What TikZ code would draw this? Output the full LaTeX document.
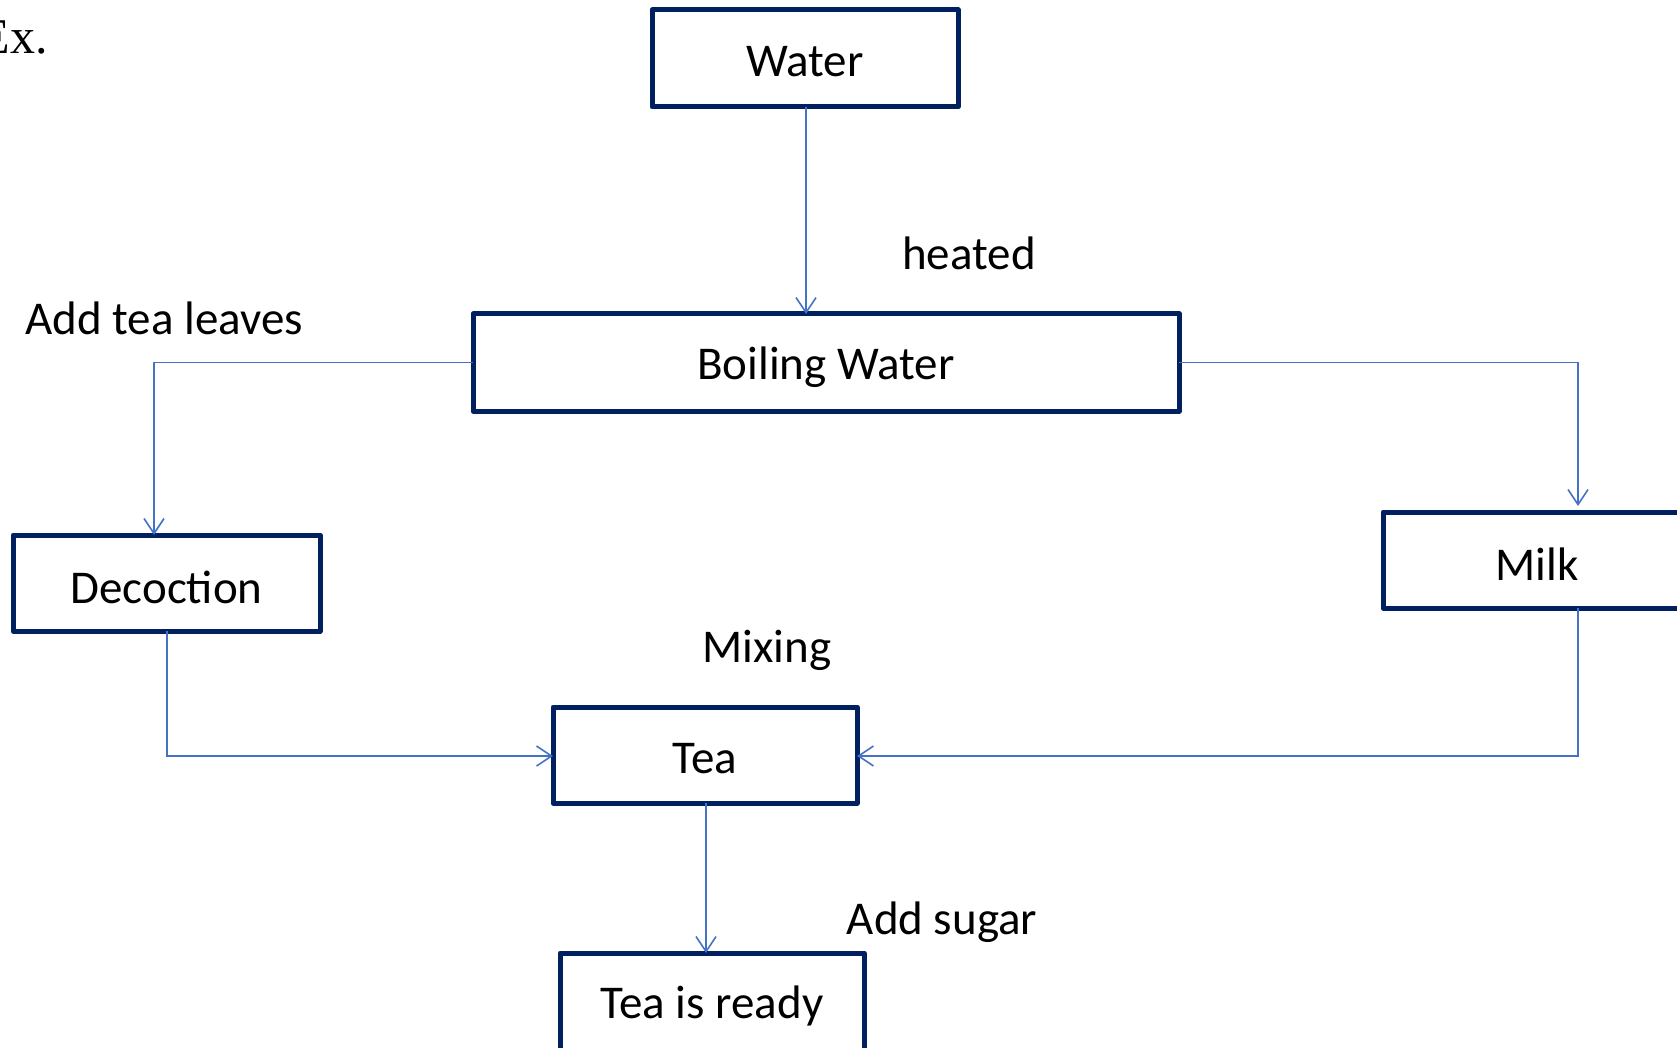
\documentclass[tikz,border=0pt]{standalone}
\usepackage{fontspec}
\setmainfont{Carlito}
\newfontfamily\exfont{Liberation Serif}
\usetikzlibrary{arrows.meta}
\definecolor{boxnavy}{HTML}{002060}
\definecolor{linkblue}{HTML}{4472C4}
\begin{document}
\begin{tikzpicture}[x=1pt,y=-1pt,
  procbox/.style={draw=boxnavy,line width=5pt,line join=round,fill=white},
  lbl/.style={font=\fontsize{47}{56}\selectfont,inner sep=0pt},
  link/.style={draw=linkblue,line width=1.6pt,-{Straight Barb[length=15pt,width=20pt,line width=1.6pt]}}]
\useasboundingbox (0,0) rectangle (1677,1048);
\clip (0,0) rectangle (1677,1048);

% process boxes
\draw[procbox] (652,10) rectangle (958,107);
\node[lbl] (water) at (805,62) {Water};
\draw[procbox] (473,314) rectangle (1179,411);
\node[lbl] (boil) at (826,367) {Boiling Water};
\draw[procbox] (13,535) rectangle (320,631);
\node[lbl] (decoc) at (166.5,587) {Decoction};
\draw[procbox] (1383,512) rectangle (1720,608);
\node[lbl] (milk) at (1537,564) {Milk};
\draw[procbox] (553,707) rectangle (857,803);
\node[lbl] (tea) at (705,759) {Tea};
\draw[procbox] (560,953) rectangle (864,1100);
\node[lbl] (ready) at (712,1006) {Tea is ready};

% anchor points on the box edges
\coordinate (waterS) at (806,107);
\coordinate (boilN) at (806,314);
\coordinate (boilW) at (473,362.5);
\coordinate (boilE) at (1179,362.5);
\coordinate (decocN) at (154,535);
\coordinate (decocS) at (167,631);
\coordinate (milkN) at (1578,506);
\coordinate (milkS) at (1578,608);
\coordinate (teaW) at (553,756);
\coordinate (teaE) at (857,756);
\coordinate (teaS) at (706,803);
\coordinate (readyN) at (706,953);

% connectors
\draw[link] (waterS) -- (boilN);
\draw[link] (boilW) -| (decocN);
\draw[link] (boilE) -| (milkN);
\draw[link] (decocS) |- (teaW);
\draw[link] (milkS) |- (teaE);
\draw[link] (teaS) -- (readyN);

% step labels
\node[lbl] (heated) at (969,253) {heated};
\node[lbl] (addleaves) at (164,318) {Add tea leaves};
\node[lbl] (mixing) at (767,650) {Mixing};
\node[lbl] (addsugar) at (942,922) {Add sugar};

\node[anchor=base east,inner sep=0pt,font=\exfont\fontsize{50}{60}\selectfont] (ex) at (48,54) {Ex.};
\end{tikzpicture}
\end{document}
